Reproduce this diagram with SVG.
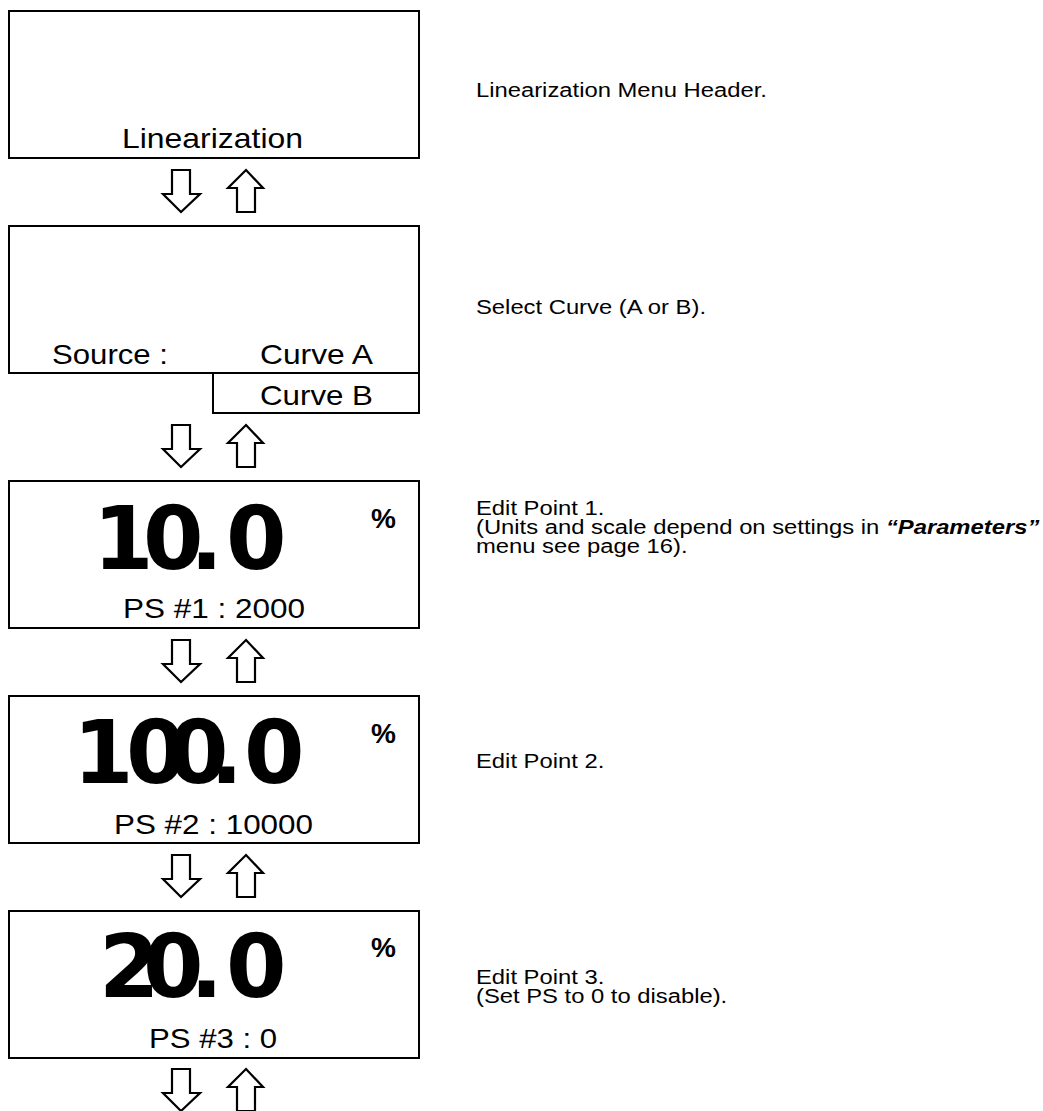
<svg xmlns="http://www.w3.org/2000/svg" width="1043" height="1111" viewBox="0 0 1043 1111">
<style>
.box{fill:none;stroke:#000;stroke-width:2}
.lbl{font-family:"Liberation Sans",Arial,sans-serif;font-size:28px;fill:#000}
.big{font-family:"DejaVu Sans",Verdana,sans-serif;font-weight:bold;font-size:87px;fill:#000}
.pct{font-family:"Liberation Sans",Arial,sans-serif;font-weight:bold;font-size:28px;fill:#000}
.note{font-family:"Liberation Sans",Arial,sans-serif;font-size:20px;fill:#000}
.arr{fill:#fff;stroke:#000;stroke-width:2.2;stroke-linejoin:miter}
</style>
<defs>
<g id="pair">
<polygon class="arr" points="172,0 190,0 190,24 200,24 181,42 163,24 172,24"/>
<polygon class="arr" points="246,0 263,18 255,18 255,42 237,42 237,18 228,18"/>
</g>
</defs>
<g id="connectors">
<use href="#pair" transform="translate(0,170)"/>
<use href="#pair" transform="translate(0,425)"/>
<use href="#pair" transform="translate(0,640)"/>
<use href="#pair" transform="translate(0,855)"/>
<use href="#pair" transform="translate(0,1069)"/>
</g>
<g id="node-header">
<rect class="box" x="9" y="11" width="410" height="147"/>
<text class="lbl" x="122" y="148" textLength="181" lengthAdjust="spacingAndGlyphs">Linearization</text>
</g>
<g id="node-source">
<rect class="box" x="9" y="226" width="410" height="147"/>
<rect class="box" x="213" y="373" width="206" height="40"/>
<text class="lbl" x="52" y="364" textLength="116" lengthAdjust="spacingAndGlyphs">Source :</text>
<text class="lbl" x="260" y="364" textLength="113" lengthAdjust="spacingAndGlyphs">Curve A</text>
<text class="lbl" x="260" y="405" textLength="113" lengthAdjust="spacingAndGlyphs">Curve B</text>
</g>
<g id="node-point1">
<rect class="box" x="9" y="481" width="410" height="147"/>
<text class="big" x="93 143 190 226" y="569">10.0</text>
<text class="pct" x="371" y="528">%</text>
<text class="lbl" x="123" y="618" textLength="182" lengthAdjust="spacingAndGlyphs">PS #1 : 2000</text>
</g>
<g id="node-point2">
<rect class="box" x="9" y="696" width="410" height="147"/>
<text class="big" x="73 126 168 210 244" y="783">100.0</text>
<text class="pct" x="371" y="743">%</text>
<text class="lbl" x="114" y="834" textLength="199" lengthAdjust="spacingAndGlyphs">PS #2 : 10000</text>
</g>
<g id="node-point3">
<rect class="box" x="9" y="911" width="410" height="147"/>
<text class="big" x="99 143 190 226" y="997">20.0</text>
<text class="pct" x="371" y="957">%</text>
<text class="lbl" x="149" y="1048" textLength="128" lengthAdjust="spacingAndGlyphs">PS #3 : 0</text>
</g>
<g id="notes" transform="translate(476 0) scale(1.19 1)">
<text class="note" x="0" y="97">Linearization Menu Header.</text>
<text class="note" x="0" y="314">Select Curve (A or B).</text>
<text class="note" x="0" y="515">Edit Point 1.</text>
<text class="note" x="0" y="534">(Units and scale depend on settings in <tspan font-weight="bold" font-style="italic">“Parameters”</tspan></text>
<text class="note" x="0" y="553">menu see page 16).</text>
<text class="note" x="0" y="768">Edit Point 2.</text>
<text class="note" x="0" y="984">Edit Point 3.</text>
<text class="note" x="0" y="1003">(Set PS to 0 to disable).</text>
</g>
</svg>
